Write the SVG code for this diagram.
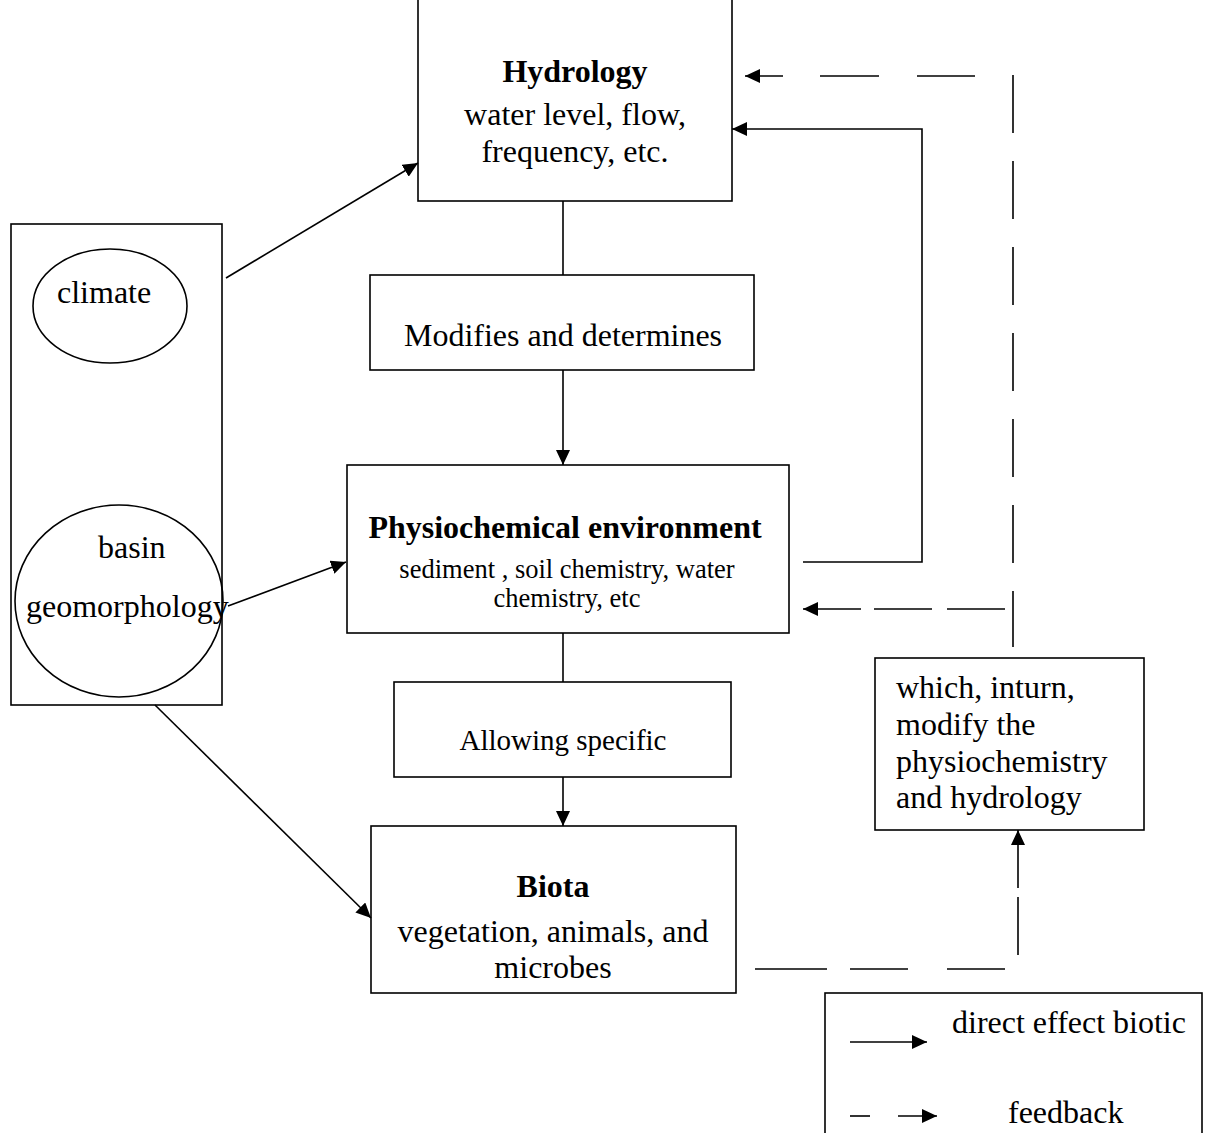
<svg xmlns="http://www.w3.org/2000/svg" width="1212" height="1133" viewBox="0 0 1212 1133">
<style>
.box{fill:#fff;stroke:#000;stroke-width:1.6}
.ln{fill:none;stroke:#000;stroke-width:1.6}
text{font-family:"Liberation Serif","Times New Roman",serif;fill:#000}
.t32{font-size:32px}
.b{font-weight:bold}
.c{text-anchor:middle}
</style>
<defs>
<marker id="ah" markerUnits="userSpaceOnUse" markerWidth="16" markerHeight="14" refX="15" refY="7" orient="auto">
<path d="M0,0 L15,7 L0,14 z" fill="#000"/>
</marker>
</defs>
<rect width="1212" height="1133" fill="#fff"/>

<g id="hydrology">
<rect class="box" x="418" y="-2" width="314" height="203"/>
<text class="t32 b c" x="575" y="82">Hydrology</text>
<text class="t32 c" x="575" y="125">water level, flow,</text>
<text class="t32 c" x="575" y="162">frequency, etc.</text>
</g>

<g id="modifies">
<rect class="box" x="370" y="275" width="384" height="95"/>
<text class="t32 c" x="563" y="346">Modifies and determines</text>
</g>

<g id="physiochemical">
<rect class="box" x="347" y="465" width="442" height="168"/>
<text class="t32 b c" x="565" y="538">Physiochemical environment</text>
<text class="c" style="font-size:26.5px" x="567" y="578">sediment , soil chemistry, water</text>
<text class="c" style="font-size:26.5px" x="567" y="607">chemistry, etc</text>
</g>

<g id="allowing">
<rect class="box" x="394" y="682" width="337" height="95"/>
<text class="c" style="font-size:29px" x="563" y="750">Allowing specific</text>
</g>

<g id="biota">
<rect class="box" x="371" y="826" width="365" height="167"/>
<text class="t32 b c" x="553" y="897">Biota</text>
<text class="t32 c" x="553" y="942">vegetation, animals, and</text>
<text class="t32 c" x="553" y="978">microbes</text>
</g>

<g id="drivers">
<rect class="box" x="11" y="224" width="211" height="481" fill="none"/>
<g id="climate">
<ellipse class="ln" cx="110" cy="306" rx="77" ry="57"/>
<text class="t32" x="57" y="303">climate</text>
</g>
<g id="basin">
<ellipse class="ln" cx="119" cy="601" rx="104" ry="96"/>
<text class="t32" x="98" y="558">basin</text>
<text class="t32" x="26" y="617">geomorphology</text>
</g>
</g>

<g id="feedback-note">
<rect class="box" x="875" y="658" width="269" height="172"/>
<text class="t32" x="896" y="698">which, inturn,</text>
<text class="t32" x="896" y="735">modify the</text>
<text class="t32" x="896" y="772">physiochemistry</text>
<text class="t32" x="896" y="808">and hydrology</text>
</g>

<g id="legend">
<rect class="box" x="825" y="993" width="377" height="150"/>
<line class="ln" x1="850" y1="1042" x2="927" y2="1042" marker-end="url(#ah)"/>
<text class="t32" x="952" y="1033">direct effect biotic</text>
<line class="ln" x1="850" y1="1116" x2="870" y2="1116"/>
<line class="ln" x1="898" y1="1116" x2="937" y2="1116" marker-end="url(#ah)"/>
<text class="t32" x="1008" y="1123">feedback</text>
</g>

<g id="connectors">
<line class="ln" x1="563" y1="201" x2="563" y2="275"/>
<line class="ln" x1="563" y1="370" x2="563" y2="465" marker-end="url(#ah)"/>
<line class="ln" x1="563" y1="633" x2="563" y2="682"/>
<line class="ln" x1="563" y1="777" x2="563" y2="826" marker-end="url(#ah)"/>
<line class="ln" x1="226" y1="278" x2="418" y2="163" marker-end="url(#ah)"/>
<line class="ln" x1="228" y1="606" x2="346" y2="562" marker-end="url(#ah)"/>
<line class="ln" x1="155" y1="705" x2="371" y2="918" marker-end="url(#ah)"/>
<polyline class="ln" points="803,562 922,562 922,129 732,129" marker-end="url(#ah)"/>
<line class="ln" x1="975" y1="76" x2="917" y2="76"/>
<line class="ln" x1="879" y1="76" x2="820" y2="76"/>
<line class="ln" x1="783" y1="76" x2="745" y2="76" marker-end="url(#ah)"/>
<line class="ln" x1="1013" y1="75" x2="1013" y2="647" stroke-dasharray="58 28"/>
<line class="ln" x1="1005" y1="609" x2="947" y2="609"/>
<line class="ln" x1="932" y1="609" x2="874" y2="609"/>
<line class="ln" x1="861" y1="609" x2="803" y2="609" marker-end="url(#ah)"/>
<line class="ln" x1="755" y1="969" x2="827" y2="969"/>
<line class="ln" x1="850" y1="969" x2="908" y2="969"/>
<line class="ln" x1="947" y1="969" x2="1005" y2="969"/>
<line class="ln" x1="1018" y1="955" x2="1018" y2="897"/>
<line class="ln" x1="1018" y1="888" x2="1018" y2="830" marker-end="url(#ah)"/>
</g>
</svg>
